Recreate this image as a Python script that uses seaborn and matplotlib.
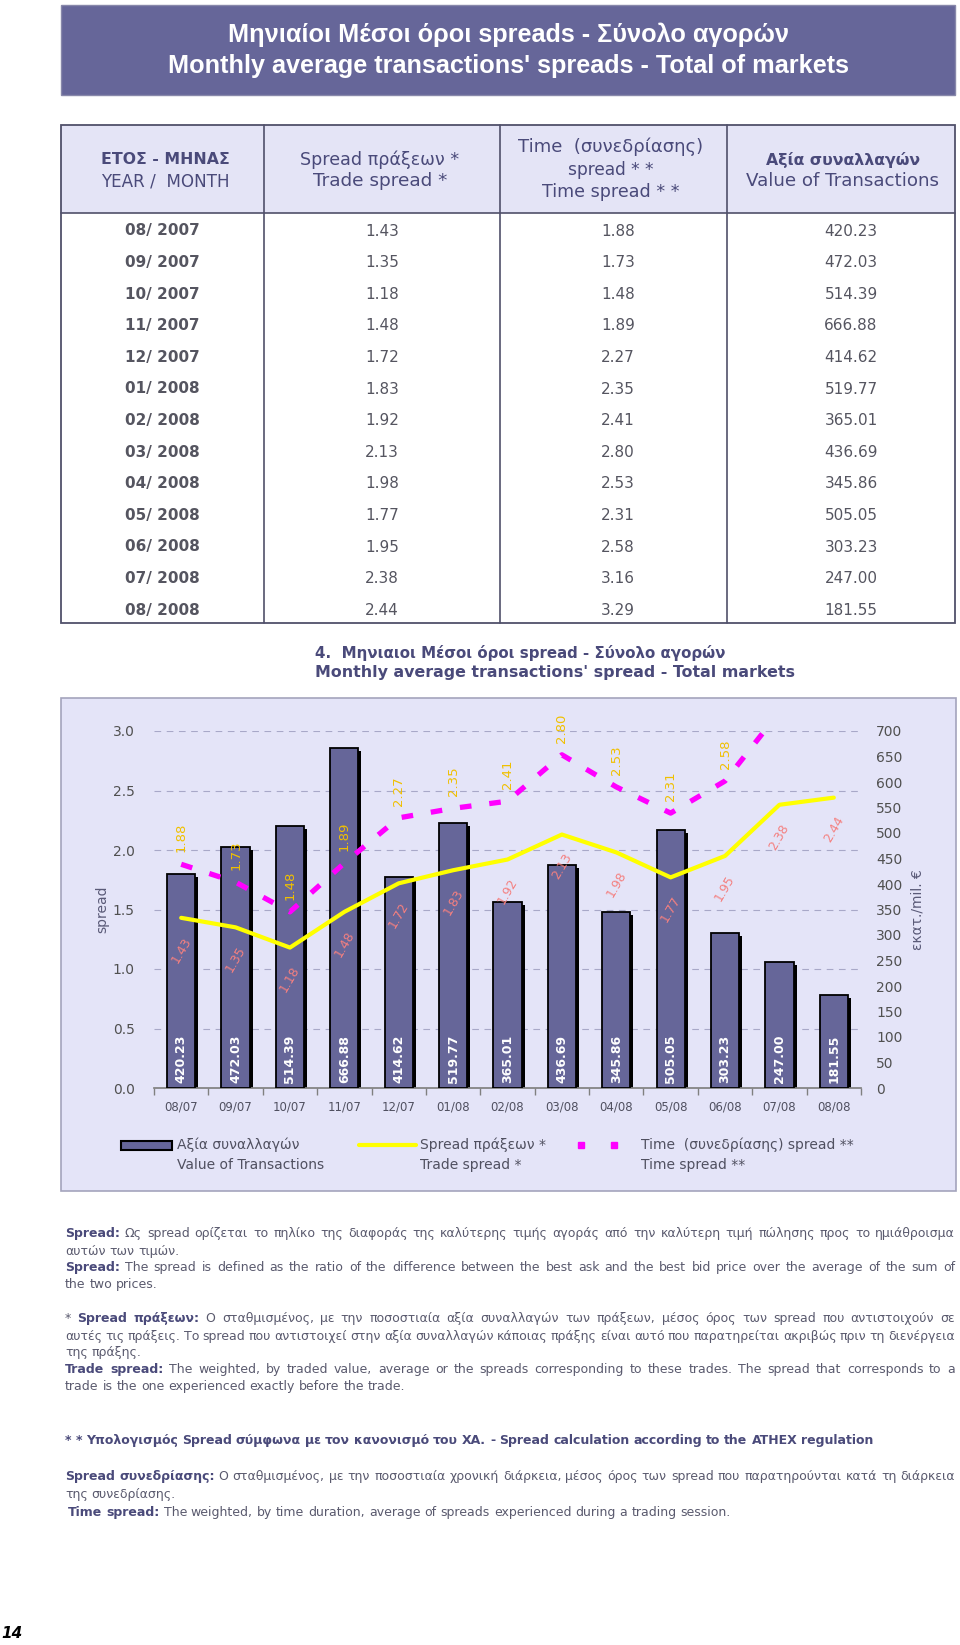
import matplotlib
matplotlib.use("Agg")
import matplotlib.pyplot as plt
import matplotlib.transforms as mtransforms
from matplotlib import font_manager
from matplotlib.patches import Rectangle
import numpy as np
import pandas as pd
import seaborn as sns

# chart / table data
months = ["08/07", "09/07", "10/07", "11/07", "12/07", "01/08", "02/08",
          "03/08", "04/08", "05/08", "06/08", "07/08", "08/08"]
table_months = ["08/ 2007", "09/ 2007", "10/ 2007", "11/ 2007", "12/ 2007",
                "01/ 2008", "02/ 2008", "03/ 2008", "04/ 2008", "05/ 2008",
                "06/ 2008", "07/ 2008", "08/ 2008"]
trade_spread = [1.43, 1.35, 1.18, 1.48, 1.72, 1.83, 1.92, 2.13, 1.98, 1.77, 1.95, 2.38, 2.44]
time_spread = [1.88, 1.73, 1.48, 1.89, 2.27, 2.35, 2.41, 2.80, 2.53, 2.31, 2.58, 3.16, 3.29]
value_tx = [420.23, 472.03, 514.39, 666.88, 414.62, 519.77, 365.01,
            436.69, 345.86, 505.05, 303.23, 247.00, 181.55]

spread_ticks = [0.0, 0.5, 1.0, 1.5, 2.0, 2.5, 3.0]
value_ticks = list(range(0, 701, 50))

SLATE = "#666699"
HEAD = "#4a4a7a"
GREY = "#555560"

sns.set_theme(style="white")
plt.rcParams["font.family"] = ["DejaVu Sans"]

installed = {f.name for f in font_manager.fontManager.ttflist}
TITLE_FONT = "Liberation Sans Narrow" if "Liberation Sans Narrow" in installed else "Liberation Sans"

fig = plt.figure(figsize=(9.6, 16.45), dpi=100)
page = fig.add_axes([0, 0, 1, 1])
page.set_xlim(0, 960)
page.set_ylim(1645, 0)
page.axis("off")
renderer = fig.canvas.get_renderer()


def width_of(t):
    return t.get_window_extent(renderer=renderer).width


def fit_text(x, y, s, width, ha="center", **kw):
    t = page.text(x, y, s, ha=ha, va="center", fontsize=10, **kw)
    t.set_fontsize(10 * width / width_of(t))
    return t


# ---- title banner
page.add_patch(Rectangle((61, 5), 894, 90, facecolor=SLATE, edgecolor="#8888aa", lw=1))
fit_text(508, 35, "Μηνιαίοι Μέσοι όροι spreads - Σύνολο αγορών", 557,
         color="white", fontweight="bold", family=[TITLE_FONT, "DejaVu Sans"])
fit_text(508, 66, "Monthly average transactions' spreads - Total of markets", 681,
         color="white", fontweight="bold", family=[TITLE_FONT, "DejaVu Sans"])

# ---- table
page.add_patch(Rectangle((61, 125), 894, 88, facecolor="#e4e4f6", edgecolor="none"))
page.add_patch(Rectangle((61, 125), 894, 498, facecolor="none", edgecolor="#50506a", lw=1.3))
page.plot([61, 955], [213, 213], color="#50506a", lw=1.2)
for cx in [264, 500, 727]:
    page.plot([cx, cx], [125, 623], color="#50506a", lw=1.2)

fit_text(165, 160, "ΕΤΟΣ - ΜΗΝΑΣ", 128, color=HEAD, fontweight="bold")
fit_text(165, 181, "YEAR /  MONTH", 128, color=HEAD)
fit_text(380, 160, "Spread πράξεων *", 159, color=HEAD)
fit_text(380, 181, "Trade spread *", 135, color=HEAD)
fit_text(611, 147, "Time  (συνεδρίασης)", 185, color=HEAD)
fit_text(611, 170, "spread * *", 86, color=HEAD)
fit_text(611, 192, "Time spread * *", 137, color=HEAD)
fit_text(843, 160, "Αξία συναλλαγών", 154, color=HEAD, fontweight="bold")
fit_text(843, 181, "Value of Transactions", 193, color=HEAD)

for i in range(len(months)):
    ry = 231 + i * 31.6
    page.text(162, ry, table_months[i], ha="center", va="center", fontsize=11,
              fontweight="bold", color=GREY)
    page.text(382, ry, f"{trade_spread[i]:.2f}", ha="center", va="center", fontsize=11, color=GREY)
    page.text(618, ry, f"{time_spread[i]:.2f}", ha="center", va="center", fontsize=11, color=GREY)
    page.text(851, ry, f"{value_tx[i]:.2f}", ha="center", va="center", fontsize=11, color=GREY)

# ---- chart heading
fit_text(315, 653, "4.  Μηνιαιοι Μέσοι όροι spread - Σύνολο αγορών", 409, ha="left",
         color=HEAD, fontweight="bold")
fit_text(315, 673, "Monthly average transactions' spread - Total markets", 482, ha="left",
         color=HEAD, fontweight="bold")

# ---- chart box
page.add_patch(Rectangle((61, 698), 895, 493, facecolor="#e4e4f8", edgecolor="#a4a4bc", lw=1.2))

df = pd.DataFrame({"month": months, "value": value_tx,
                   "trade": trade_spread, "time": time_spread})

ax = fig.add_axes([154 / 960, 1 - 1088 / 1645, 707 / 960, 357 / 1645])
ax.set_facecolor("none")
sns.barplot(data=df, x="month", y="value", ax=ax, color=SLATE, saturation=1,
            width=0.52, edgecolor="black", linewidth=1.3, zorder=3)
shadow = ax.transData + mtransforms.ScaledTranslation(3 / 100, -3 / 100, fig.dpi_scale_trans)
for p in list(ax.patches):
    ax.add_patch(Rectangle(p.get_xy(), p.get_width(), p.get_height(), transform=shadow,
                           facecolor="black", edgecolor="none", zorder=2.5))
for i, v in enumerate(value_tx):
    ax.text(i, 10, f"{v:.2f}", rotation=90, ha="center", va="bottom", color="white",
            fontsize=9, fontweight="bold", zorder=5)

ax.set_xlim(-0.5, len(months) - 0.5)
ax.set_ylim(0, 700)
for t in spread_ticks[1:]:
    ax.axhline(t * 700 / 3, color="#a8a8c8", lw=0.8, ls=(0, (6, 5)), zorder=1)
ax.set_xlabel("")
ax.set_xticks(range(len(months)))
ax.set_xticklabels(months)
ax.set_xticks(np.arange(-0.5, len(months), 1), minor=True)
ax.tick_params(axis="x", which="major", length=0, pad=9, labelsize=8.5, labelcolor="#505060")
ax.tick_params(axis="x", which="minor", length=5, color="#808080", bottom=True)
for side in ["left", "right", "top"]:
    ax.spines[side].set_visible(False)
ax.spines["bottom"].set_color("#808080")

ax2 = ax.twinx()
ax2.set_facecolor("none")
sns.lineplot(data=df, x="month", y="time", ax=ax2, color="#ff00ff", lw=3.8,
             linestyle=(0, (2.2, 3.4)), sort=False, zorder=4)
sns.lineplot(data=df, x="month", y="trade", ax=ax2, color="#ffff00", lw=3,
             sort=False, zorder=4)
ax2.set_xlim(-0.5, len(months) - 0.5)
ax2.set_ylim(0, 3.0)
ax2.set_xlabel("")
for s in ax2.spines.values():
    s.set_visible(False)

# value axis on the right (host), spread axis on the left (twin, drawn on top)
ax.yaxis.tick_right()
ax.yaxis.set_label_position("right")
ax.set_yticks(value_ticks)
ax.tick_params(axis="y", left=False, right=False, labelleft=False, labelright=True,
               pad=5, labelsize=10, labelcolor="#505050")
ax.set_ylabel("εκατ./mil. €", fontsize=10, color="#5a5a78", labelpad=6)

ax2.yaxis.tick_left()
ax2.yaxis.set_label_position("left")
ax2.set_yticks(spread_ticks)
ax2.set_yticklabels([f"{t:.1f}" for t in spread_ticks])
ax2.tick_params(axis="y", left=False, right=False, labelleft=True, labelright=False,
                pad=8, labelsize=10, labelcolor="#505050")
ax2.set_ylabel("spread", fontsize=10, color="#5a5a78", labelpad=2)

for i, v in enumerate(time_spread):
    if v <= 3.0:
        ax2.text(i, v + 0.10, f"{v:.2f}", rotation=90, ha="center", va="bottom",
                 color="#f0c000", fontsize=9.5, clip_on=False, zorder=6)
for i, v in enumerate(trade_spread):
    ax2.text(i, v - 0.27, f"{v:.2f}", rotation=60, ha="center", va="center",
             color="#f48080", fontsize=9, zorder=6)

# ---- legend (drawn on page)
LEG = "#505060"
page.add_patch(Rectangle((121, 1141), 51, 9, facecolor=SLATE, edgecolor="black", lw=1.5))
page.text(177, 1145, "Αξία συναλλαγών", ha="left", va="center", fontsize=10, color=LEG)
page.text(177, 1165, "Value of Transactions", ha="left", va="center", fontsize=10, color=LEG)
page.plot([359, 416], [1145, 1145], color="#ffff00", lw=3)
page.text(420, 1145, "Spread πράξεων *", ha="left", va="center", fontsize=10, color=LEG)
page.text(420, 1165, "Trade spread *", ha="left", va="center", fontsize=10, color=LEG)
page.plot([581, 614], [1145, 1145], ls="none", marker="s", ms=5, color="#ff00ff")
page.text(641, 1145, "Time  (συνεδρίασης) spread **", ha="left", va="center", fontsize=10, color=LEG)
page.text(641, 1165, "Time spread **", ha="left", va="center", fontsize=10, color=LEG)

# ---- footnotes
LEFT, RIGHT = 65, 955
FOOT = 9
BODY = "#5a5a6e"
_a = page.text(0, 800, "x x", fontsize=FOOT)
_b = page.text(0, 800, "xx", fontsize=FOOT)
space = width_of(_a) - width_of(_b)
_a.remove()
_b.remove()


def foot_line(y, runs, justify=True, x0=LEFT):
    items = []
    for s, bold in runs:
        for w in s.split():
            t = page.text(0, y + 4, w, ha="left", va="baseline", fontsize=FOOT,
                          fontweight="bold" if bold else "normal",
                          color=HEAD if bold else BODY)
            items.append((t, width_of(t)))
    gap = space
    if justify and len(items) > 1:
        gap = max((RIGHT - x0 - sum(w for _, w in items)) / (len(items) - 1), 1.5)
    x = x0
    for t, w in items:
        t.set_x(x)
        x += w + gap


foot_line(1233, [("Spread:", True), ("Ως spread ορίζεται το πηλίκο της διαφοράς της καλύτερης τιμής αγοράς από την καλύτερη τιμή πώλησης προς το ημιάθροισμα", False)])
foot_line(1251, [("αυτών των τιμών.", False)], justify=False)
foot_line(1267, [("Spread:", True), ("The spread is defined as the ratio of the difference between the best ask and the best bid price over the average of the sum of", False)])
foot_line(1284, [("the two prices.", False)], justify=False)
foot_line(1318, [("*", False), ("Spread πράξεων:", True), ("Ο σταθμισμένος, με την ποσοστιαία αξία συναλλαγών των πράξεων, μέσος όρος των spread που αντιστοιχούν σε", False)])
foot_line(1336, [("αυτές τις πράξεις. Το spread που αντιστοιχεί στην αξία συναλλαγών κάποιας πράξης είναι αυτό που παρατηρείται ακριβώς πριν τη διενέργεια", False)])
foot_line(1352, [("της πράξης.", False)], justify=False)
foot_line(1369, [("Trade spread:", True), ("The weighted, by traded value, average or the spreads corresponding to these trades. The spread that corresponds to a", False)])
foot_line(1386, [("trade is the one experienced exactly before the trade.", False)], justify=False)
foot_line(1440, [("* * Υπολογισμός Spread σύμφωνα με τον κανονισμό  του ΧΑ. - Spread calculation according to the ATHEX regulation", True)], justify=False)
foot_line(1476, [("Spread συνεδρίασης:", True), ("Ο σταθμισμένος, με την ποσοστιαία χρονική διάρκεια, μέσος όρος των spread που παρατηρούνται κατά τη διάρκεια", False)])
foot_line(1494, [("της συνεδρίασης.", False)], justify=False)
foot_line(1512, [("Time spread:", True), ("The weighted, by time duration, average of spreads experienced during a trading session.", False)], justify=False, x0=LEFT + 3)

page.text(1, 1634, "14", ha="left", va="center", fontsize=11, fontweight="bold",
          fontstyle="italic", color="black")

fig.savefig("out.png", dpi=100, facecolor="white")
